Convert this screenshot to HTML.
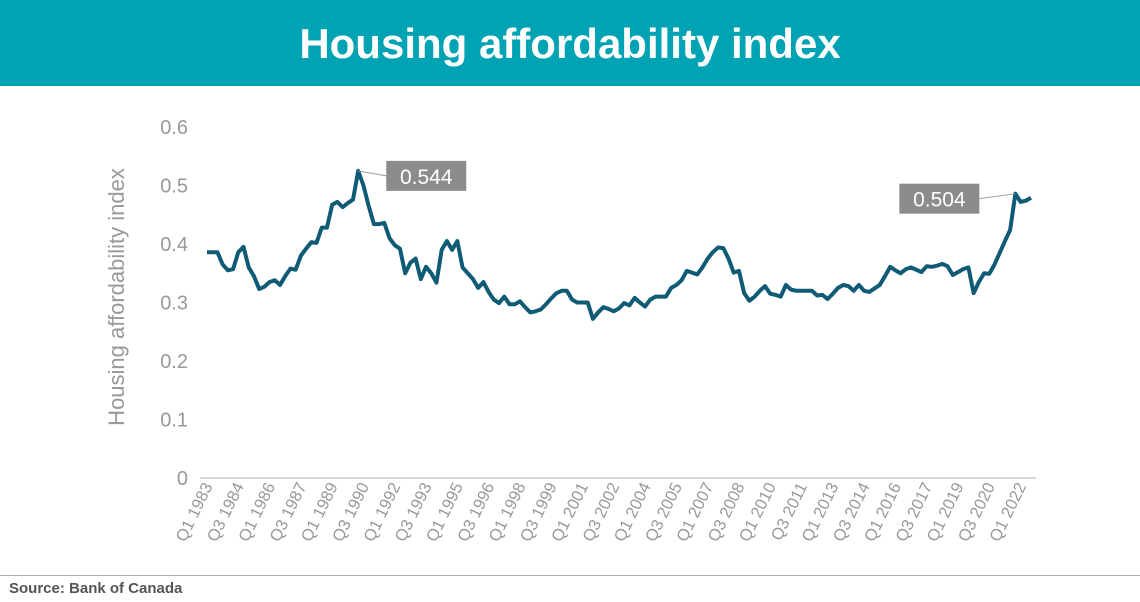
<!DOCTYPE html>
<html><head><meta charset="utf-8"><style>
body{margin:0;width:1140px;height:602px;background:#fff;overflow:hidden;font-family:"Liberation Sans",sans-serif}
#hdr{position:absolute;left:0;top:0;width:1140px;height:86px;background:#00a3b3;color:#fff;font-weight:bold;font-size:42px;text-align:center;line-height:88px}
#foot-line{position:absolute;left:0;top:575px;width:1140px;height:1px;background:#aaa}
#src{position:absolute;left:9px;top:580px;font-size:15px;font-weight:bold;color:#555}
</style></head><body>
<div id="hdr">Housing affordability index</div>
<svg id="chart" width="1140" height="575" style="position:absolute;left:0;top:0"></svg>
<div id="foot-line"></div>
<div id="src">Source: Bank of Canada</div>
<script>
const yTicks=[0,0.1,0.2,0.3,0.4,0.5,0.6];
const tickLabels=["0","0.1","0.2","0.3","0.4","0.5","0.6"];
const startYear=1983;
const values=[0.386,0.386,0.386,0.365,0.355,0.357,0.386,0.395,0.36,0.345,0.323,0.327,0.335,0.338,0.33,0.345,0.358,0.356,0.38,0.392,
0.403,0.402,0.428,0.428,0.467,0.472,0.463,0.47,0.476,0.525,0.5,0.465,0.434,0.434,0.436,0.41,0.398,0.392,0.35,0.368,
0.375,0.34,0.361,0.35,0.334,0.39,0.405,0.39,0.405,0.36,0.35,0.34,0.325,0.335,0.318,0.305,0.299,0.31,0.297,0.297,
0.302,0.292,0.283,0.285,0.288,0.297,0.307,0.316,0.32,0.32,0.305,0.3,0.3,0.3,0.272,0.283,0.292,0.289,0.285,0.29,
0.299,0.295,0.308,0.3,0.293,0.305,0.31,0.31,0.31,0.325,0.33,0.338,0.354,0.351,0.348,0.36,0.375,0.386,0.394,0.393,
0.375,0.351,0.354,0.316,0.303,0.31,0.32,0.328,0.315,0.313,0.31,0.33,0.322,0.32,0.32,0.32,0.32,0.312,0.313,0.306,
0.315,0.325,0.33,0.328,0.32,0.33,0.32,0.318,0.324,0.33,0.345,0.361,0.355,0.35,0.357,0.36,0.356,0.352,0.362,0.361,
0.363,0.366,0.362,0.347,0.352,0.357,0.36,0.316,0.335,0.35,0.349,0.365,0.385,0.405,0.424,0.486,0.472,0.474,0.479];
const annotations=[{i:29,label:"0.544"},{i:155,label:"0.504"}];
const NS="http://www.w3.org/2000/svg";
const svg=document.getElementById('chart');
const x0=207,x1=1031,yZero=478,yTop=127;
const xs=i=>x0+(x1-x0)*i/(values.length-1);
const ys=v=>yZero-(yZero-yTop)*v/0.6;
function mk(t,a){const e=document.createElementNS(NS,t);for(const k in a)e.setAttribute(k,a[k]);svg.appendChild(e);return e;}
yTicks.forEach((t,k)=>{
  const e=mk('text',{x:188,y:ys(t)+7,'text-anchor':'end','font-size':20,fill:'#999'});
  
  
  e.textContent=tickLabels[k];
});
const ax=mk('line',{x1:200,x2:1036,y1:yZero,y2:yZero,stroke:'#ccc','stroke-width':1.5});


const yt=mk('text',{x:0,y:0,transform:'translate(124,297) rotate(-90)','text-anchor':'middle','font-size':22,fill:'#999'});


yt.textContent='Housing affordability index';
for(let i=0;i<values.length;i+=6){
  const q=i%4+1,yr=startYear+Math.floor(i/4);
  const e=mk('text',{x:0,y:0,transform:`translate(${xs(i)+6},${486}) rotate(-64)`,'text-anchor':'end','font-size':16.5,fill:'#999'});
  
  
  e.textContent=`Q${q} ${yr}`;
}
const p=mk('polyline',{points:values.map((v,i)=>xs(i)+','+ys(v)).join(' '),fill:'none',stroke:'#0f5a75','stroke-width':4,'stroke-linejoin':'round'});


annotations.forEach((a,k)=>{
  const px=xs(a.i),py=ys(values[a.i]);
  const bx=k==0?px+28:px-116,by=py-10;
  const l=mk('line',{x1:px,y1:py,x2:k==0?bx:bx+80,y2:by+15,stroke:'#999','stroke-width':1});
  
  
  const r=mk('rect',{x:bx,y:by,width:80,height:30,fill:'#8c8c8c'});
  
  
  const t=mk('text',{x:bx+40,y:by+23,'text-anchor':'middle','font-size':21,fill:'#fff'});
  
  
  t.textContent=a.label;
});
</script>
</body></html>
